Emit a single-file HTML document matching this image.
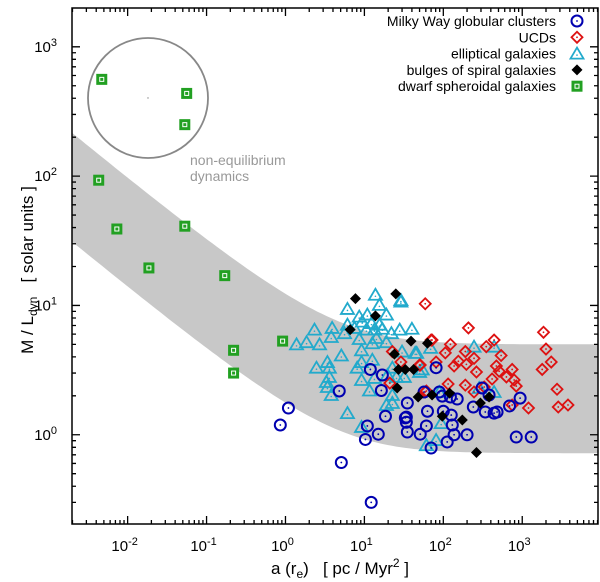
<!DOCTYPE html>
<html><head><meta charset="utf-8"><style>
html,body{margin:0;padding:0;background:#fff;}
svg{display:block;font-family:"Liberation Sans",sans-serif;}
</style></head><body>
<svg id="chart" width="600" height="582" viewBox="0 0 600 582" xmlns="http://www.w3.org/2000/svg"></svg>
<script>
const xTickLabels=["-2","-1","0","1","2","3"];
const yTickLabels=["0","1","2","3"];
const gcX=[1.09,0.86,4.8,5.1,12.2,11.9,16.9,16.4,35,18.5,34,34,63,10.9,10.3,15,35,51,61,70,81,33,57,89,97,123,150,100,126,130,137,112,200,240,340,440,480,310,380,690,940,840,1300];
const gcY=[1.61,1.19,2.18,0.61,0.30,3.2,2.9,2.2,1.76,1.39,1.37,1.25,1.52,1.17,0.92,1.01,1.05,1.01,1.17,0.79,3.3,1.35,2.14,2.14,1.99,1.96,1.89,1.52,1.42,1.19,1.0,0.88,1.0,1.64,1.50,1.47,1.50,2.3,2.03,1.67,1.92,0.96,0.96];
const ucdX=[59,208,1860,72,123,440,2000,106,190,350,540,81,155,196,245,137,470,2330,1790,263,510,745,630,790,415,115,190,330,840,245,59,2760,1200,745,2860,3800,50,22.6,70,29,21,61,51];
const ucdY=[10.3,6.7,6.2,5.4,5.0,5.4,4.6,4.3,4.4,4.8,4.1,3.65,3.7,3.5,3.9,3.4,3.4,3.65,3.2,3.06,3.1,3.2,2.8,2.65,2.7,2.47,2.42,2.34,2.38,2.14,2.14,2.25,1.61,1.70,1.64,1.70,3.46,4.4,5.4,3.65,2.51,2.18,3.46];
const ellX=[13.8,29,6.1,15.5,8.6,10.9,19,6.1,9.4,12.3,15.5,2.33,3.9,5.6,7.5,10.6,13.4,16.9,22,28,40,3.8,8.6,14.2,19,1.85,1.38,2.7,9.2,5.1,12.6,30,46,69,3.4,2.47,3.6,8.1,9.2,12.6,22.6,50,19.6,3.6,25.5,9.2,13.4,3.3,3.4,3.8,11.6,22.6,19,6.1,22.6,9.2,61,81,29,44,54,32,245,440,285,440,89,94];
const ellY=[12.1,10.7,9.4,10.1,8.2,8.5,8.5,7.1,7.5,7.3,7.1,6.5,6.7,6.1,6.7,6.5,6.5,6.6,6.1,6.5,6.6,5.7,5.5,5.6,5.2,5.2,5.0,5.0,4.5,4.1,5.1,4.4,4.3,4.7,3.65,3.3,3.3,3.3,3.65,3.8,3.3,3.06,2.9,2.8,2.8,2.65,2.75,2.56,2.34,2.03,2.2,2.03,1.70,1.47,1.76,1.15,0.83,0.91,11.0,4.3,3.2,2.8,4.8,4.8,2.3,2.14,2.14,1.23];
const bulX=[7.7,25,13.8,6.6,39,63,24,27,33,42,26,48,72,120,295,380,97,174,263];
const bulY=[11.3,12.3,8.3,6.5,5.3,5.1,4.2,3.2,3.2,3.2,2.3,1.96,2.03,2.1,1.76,1.96,1.39,1.30,0.73];
const dsX=[0.0047,0.056,0.053,0.0043,0.0073,0.0186,0.053,0.17,0.22,0.22,0.92];
const dsY=[560,436,250,93,39,19.5,41,17,4.5,3.0,5.3];

const NS="http://www.w3.org/2000/svg";
const svg=document.getElementById('chart');
const L=72,R=598,T=8,B=524;
const xMin=-2.705,xMax=3.96,yMin=-0.69,yMax=3.30;
function X(v){return L+(Math.log10(v)-xMin)/(xMax-xMin)*(R-L);}
function Y(v){return B-(Math.log10(v)-yMin)/(yMax-yMin)*(B-T);}
function mk(tag,at,parent){const e=document.createElementNS(NS,tag);for(const k in at)e.setAttribute(k,at[k]);(parent||svg).appendChild(e);return e;}

// band
const a0=3.6;
function nu(a){return 0.5+Math.sqrt(0.25+a0/a);}
let up=[],lo=[];
for(let i=0;i<=120;i++){const lx=xMin+(xMax-xMin)*i/120;const a=Math.pow(10,lx);up.push([X(a),Y(5*nu(a))]);lo.push([X(a),Y(0.72*nu(a))]);}
let d="M"+up.map(p=>p[0].toFixed(1)+","+p[1].toFixed(1)).join("L")+"L"+lo.reverse().map(p=>p[0].toFixed(1)+","+p[1].toFixed(1)).join("L")+"Z";
const band=mk('path',{d:d,fill:'#c8c8c8'});



// circle
const circ=mk('circle',{cx:148,cy:98,r:60,fill:'none',stroke:'#888',"stroke-width":1.8});


mk('circle',{cx:148,cy:98,r:0.7,fill:'#888'});
const t1=mk('text',{x:190,y:165,fill:'#999',"font-size":14});t1.textContent="non-equilibrium";


const t2=mk('text',{x:190,y:181,fill:'#999',"font-size":14});t2.textContent="dynamics";



// markers
function drawMarker(type,cx,cy,g){
  if(type==='gc'){mk('circle',{cx:cx,cy:cy,r:5.5,fill:'none',stroke:'#0000b0',"stroke-width":2},g);mk('circle',{cx:cx,cy:cy,r:0.9,fill:'#0000b0'},g);}
  else if(type==='ucd'){mk('path',{d:`M${cx},${cy-5.5}L${cx+5.5},${cy}L${cx},${cy+5.5}L${cx-5.5},${cy}Z`,fill:'none',stroke:'#dd1111',"stroke-width":1.8},g);mk('circle',{cx:cx,cy:cy,r:0.9,fill:'#dd1111'},g);}
  else if(type==='ell'){mk('path',{d:`M${cx},${cy-6}L${cx+6.5},${cy+5}L${cx-6.5},${cy+5}Z`,fill:'none',stroke:'#22aacc',"stroke-width":1.8},g);mk('circle',{cx:cx,cy:cy+1.5,r:0.8,fill:'#22aacc'},g);}
  else if(type==='bul'){mk('path',{d:`M${cx},${cy-5.5}L${cx+5.5},${cy}L${cx},${cy+5.5}L${cx-5.5},${cy}Z`,fill:'#000'},g);}
  else if(type==='ds'){mk('rect',{x:cx-5.5,y:cy-5.5,width:11,height:11,fill:'#22a022'},g);mk('rect',{x:cx-2,y:cy-2,width:4,height:4,fill:'none',stroke:'#fff',"stroke-width":1},g);}
}
function series(type,xs,ys,name){
  const g=mk('g',{});
  
  
  for(let i=0;i<xs.length;i++)drawMarker(type,X(xs[i]),Y(ys[i]),g);
}
series('ell',ellX,ellY,'elliptical-galaxies-series');
series('ucd',ucdX,ucdY,'ucd-series');
series('gc',gcX,gcY,'globular-clusters-series');
series('bul',bulX,bulY,'bulges-series');
series('ds',dsX,dsY,'dwarf-spheroidal-series');

// frame & ticks
const fr=mk('rect',{x:L,y:T,width:R-L,height:B-T,fill:'none',stroke:'#000',"stroke-width":1.5});


let td="";
for(let e=-3;e<=4;e++)for(let m=1;m<10;m++){const v=m*Math.pow(10,e);const lv=Math.log10(v);if(lv<xMin||lv>xMax)continue;const x=X(v);const len=m===1?8:4;td+=`M${x},${B}v${-len}M${x},${T}v${len}`;}
for(let e=-1;e<=4;e++)for(let m=1;m<10;m++){const v=m*Math.pow(10,e);const lv=Math.log10(v);if(lv<yMin||lv>yMax)continue;const y=Y(v);const len=m===1?8:4;td+=`M${L},${y}h${len}M${R},${y}h${-len}`;}
mk('path',{d:td,stroke:'#000',"stroke-width":1.3,fill:'none'});
const xg=mk('g',{});
xTickLabels.forEach(s=>{const t=mk('text',{x:X(Math.pow(10,+s))-3,y:551,"text-anchor":"middle","font-size":15},xg);t.innerHTML=`10<tspan dy="-6" font-size="11">${s}</tspan>`;});
const yg=mk('g',{});
yTickLabels.forEach(s=>{const t=mk('text',{x:57,y:Y(Math.pow(10,+s))+5,"text-anchor":"end","font-size":15},yg);t.innerHTML=`10<tspan dy="-6" font-size="11">${s}</tspan>`;});
const xt=mk('text',{x:340,y:574,"text-anchor":"middle","font-size":17});

xt.style.whiteSpace='pre';
xt.innerHTML='a (r<tspan dy="4" font-size="12">e</tspan><tspan dy="-4">)   [ pc / Myr</tspan><tspan dy="-7" font-size="12">2</tspan><tspan dy="7"> ]</tspan>';
const yt=mk('text',{x:0,y:0,"text-anchor":"middle","font-size":17,transform:"translate(33,270) rotate(-90)"});

yt.style.whiteSpace='pre';
yt.innerHTML='M / L<tspan dy="4" font-size="12">dyn</tspan><tspan dy="-4">   [ solar units ]</tspan>';

// legend
const lg=mk('g',{});
const leg=[['Milky Way globular clusters','gc'],['UCDs','ucd'],['elliptical galaxies','ell'],['bulges of spiral galaxies','bul'],['dwarf spheroidal galaxies','ds']];
leg.forEach((l,i)=>{const y=21+i*16.3;const t=mk('text',{x:556,y:y+5,"text-anchor":"end","font-size":14},lg);t.textContent=l[0];drawMarker(l[1],577,y,lg);});
</script>
</body></html>
